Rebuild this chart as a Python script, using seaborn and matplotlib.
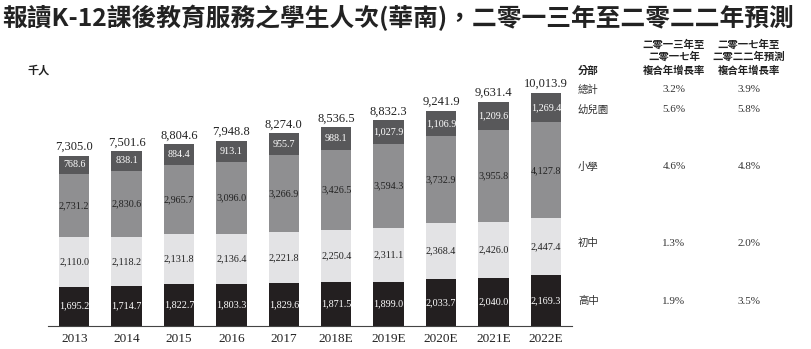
import numpy as np
import pandas as pd
import matplotlib
matplotlib.use("Agg")
import matplotlib.pyplot as plt
import seaborn as sns

years = ["2013", "2014", "2015", "2016", "2017", "2018E", "2019E", "2020E", "2021E", "2022E"]
senior_high = [1695.2, 1714.7, 1822.7, 1803.3, 1829.6, 1871.5, 1899.0, 2033.7, 2040.0, 2169.3]
junior_middle = [2110.0, 2118.2, 2131.8, 2136.4, 2221.8, 2250.4, 2311.1, 2368.4, 2426.0, 2447.4]
primary = [2731.2, 2830.6, 2965.7, 3096.0, 3266.9, 3426.5, 3594.3, 3732.9, 3955.8, 4127.8]
kindergarten = [768.6, 838.1, 884.4, 913.1, 955.7, 988.1, 1027.9, 1106.9, 1209.6, 1269.4]
total_labels = ["7,305.0", "7,501.6", "8,804.6", "7,948.8", "8,274.0", "8,536.5", "8,832.3", "9,241.9", "9,631.4", "10,013.9"]

segments = ["高中", "初中", "小學", "幼兒園"]
cagr_1317 = ["1.9%", "1.3%", "4.6%", "5.6%"]
cagr_1722 = ["3.5%", "2.0%", "4.8%", "5.8%"]
total_cagr = ["3.2%", "3.9%"]

title = "報讀K-12課後教育服務之學生人次(華南)，二零一三年至二零二二年預測"

colors = {"高中": "#231f20", "初中": "#e3e3e5", "小學": "#8f8f91", "幼兒園": "#58585a"}
text_colors = {"高中": "white", "初中": "#222222", "小學": "#222222", "幼兒園": "white"}

layers = [senior_high, junior_middle, primary, kindergarten]
arr = np.array(layers)
cum = np.cumsum(arr, axis=0)

sns.set_theme(style="white")
plt.rcParams["font.family"] = ["Liberation Serif", "Noto Sans CJK TC"]
CJK = ["Noto Sans CJK TC", "Liberation Serif"]

fig = plt.figure(figsize=(8.12, 3.49), dpi=100)
W, H = 812, 349
ax = fig.add_axes([48 / W, (H - 326) / H, (572 - 48) / W, (326 - 80) / H])

# stacked bars: draw cumulative heights from top layer down
for i in range(3, -1, -1):
    df = pd.DataFrame({"year": years, "value": cum[i]})
    sns.barplot(data=df, x="year", y="value", color=colors[segments[i]],
                width=0.58, saturation=1, ax=ax, errorbar=None, linewidth=0)

ax.set_ylim(0, 246 / 0.02330)
ax.set_xlim(-0.5, len(years) - 0.5)

# segment labels
for j in range(len(years)):
    for i in range(4):
        bottom = cum[i][j] - arr[i][j]
        mid = bottom + arr[i][j] / 2
        ax.text(j, mid, f"{arr[i][j]:,.1f}", ha="center", va="center",
                fontsize=7.3, color=text_colors[segments[i]])
    ax.text(j, cum[3][j] + 110, total_labels[j], ha="center", va="bottom",
            fontsize=9, color="#222222")

ax.set_xlabel("")
ax.set_ylabel("")
ax.set_yticks([])
for s in ["top", "right", "left"]:
    ax.spines[s].set_visible(False)
ax.spines["bottom"].set_color("#444444")
ax.spines["bottom"].set_linewidth(0.8)
ax.set_xticks(range(len(years)))
ax.set_xticklabels(years, fontsize=9.5, color="#222222")
ax.tick_params(axis="x", which="major", length=0, pad=5)
ax.set_xticks(np.arange(-0.5, len(years), 1.0), minor=True)
ax.tick_params(axis="x", which="minor", length=4, width=0.8, color="#444444", direction="out")

# title
fig.text(2 / W, 1 - 18 / H, title, ha="left", va="center", fontsize=17.8,
         fontweight="bold", family=CJK, color="#222222")
fig.text(28 / W, 1 - 70 / H, "千人", ha="left", va="center", fontsize=8,
         fontweight="bold", family=CJK, color="#222222")

# right-side table
c1, c2 = 674 / W, 749 / W
hdr_kw = dict(ha="center", va="center", fontsize=7.5, fontweight="bold", family=CJK, color="#222222")
fig.text(c1, 1 - 45 / H, "二零一三年至", **hdr_kw)
fig.text(c1, 1 - 57 / H, "二零一七年", **hdr_kw)
fig.text(c1, 1 - 71 / H, "複合年增長率", **hdr_kw)
fig.text(c2, 1 - 45 / H, "二零一七年至", **hdr_kw)
fig.text(c2, 1 - 57 / H, "二零二二年預測", **hdr_kw)
fig.text(c2, 1 - 71 / H, "複合年增長率", **hdr_kw)
fig.text(578 / W, 1 - 71 / H, "分部", ha="left", va="center", fontsize=7.5,
         fontweight="bold", family=CJK, color="#222222")

row_kw = dict(ha="left", va="center", fontsize=7.5, family=CJK, color="#333333")
val_kw = dict(ha="center", va="center", fontsize=8, color="#333333")
fig.text(578 / W, 1 - 90 / H, "總計", **row_kw)
fig.text(c1, 1 - 90 / H, total_cagr[0], **val_kw)
fig.text(c2, 1 - 90 / H, total_cagr[1], **val_kw)

row_y = {"幼兒園": 110, "小學": 167, "初中": 243, "高中": 301}
for i, seg in enumerate(segments):
    y = 1 - row_y[seg] / H
    fig.text(578 / W, y, seg, **row_kw)
    fig.text(c1, y, cagr_1317[i], **val_kw)
    fig.text(c2, y, cagr_1722[i], **val_kw)

fig.savefig("out.png", dpi=100)
